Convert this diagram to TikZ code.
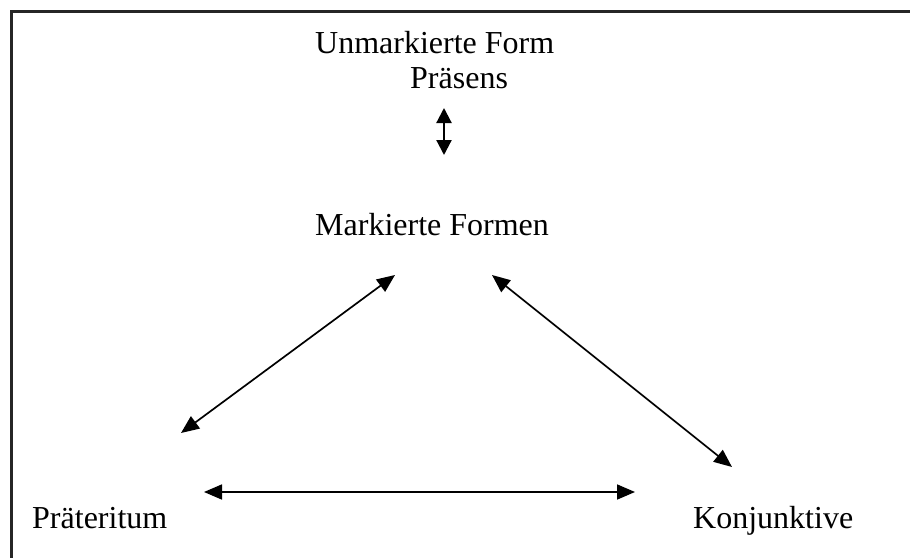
\documentclass[tikz,border=0pt]{standalone}
\usepackage{fontspec}
\setmainfont{Liberation Serif}
\usepackage{tikz}
\usetikzlibrary{arrows.meta,positioning}

\begin{document}
\begin{tikzpicture}[
	x=1pt, y=-1pt,
	term/.style={inner sep=0pt, anchor=base west, font=\fontsize{32}{38}\selectfont},
	arr/.style={{Triangle[length=18pt,width=15pt]}-{Triangle[length=18pt,width=15pt]}, line width=1.7pt},
	frame/.style={line width=2.2pt, black!85}
	]
	\useasboundingbox (0,0) rectangle (910,557);
	\clip (0,0) rectangle (910,557);
	\draw[frame] (11.5,11.5) rectangle (930,580);
	% forms
	\node[term] (unmark) at (315,53) {Unmarkierte Form};
	\node[term] (praes) at (410,88) {Präsens};
	\node[term] (mark) at (315,235) {Markierte Formen};
	\node[term] (praet) at (32,528) {Präteritum};
	\node[term] (konj) at (693,528) {Konjunktive};
	% arrow ends
	\coordinate (a1) at (444,108);
	\coordinate (a2) at (444,155);
	\coordinate (l1) at (395,275);
	\coordinate (l2) at (181,433);
	\coordinate (r1) at (492,275);
	\coordinate (r2) at (732,467);
	\coordinate (h1) at (204,492);
	\coordinate (h2) at (635,492);
	\draw[arr, line width=2.2pt, {Triangle[length=15pt,width=15pt]}-{Triangle[length=15pt,width=15pt]}] (a1) -- (a2);
	\draw[arr] (l1) -- (l2);
	\draw[arr] (r1) -- (r2);
	\draw[arr] (h1) -- (h2);
\end{tikzpicture}
\end{document}
